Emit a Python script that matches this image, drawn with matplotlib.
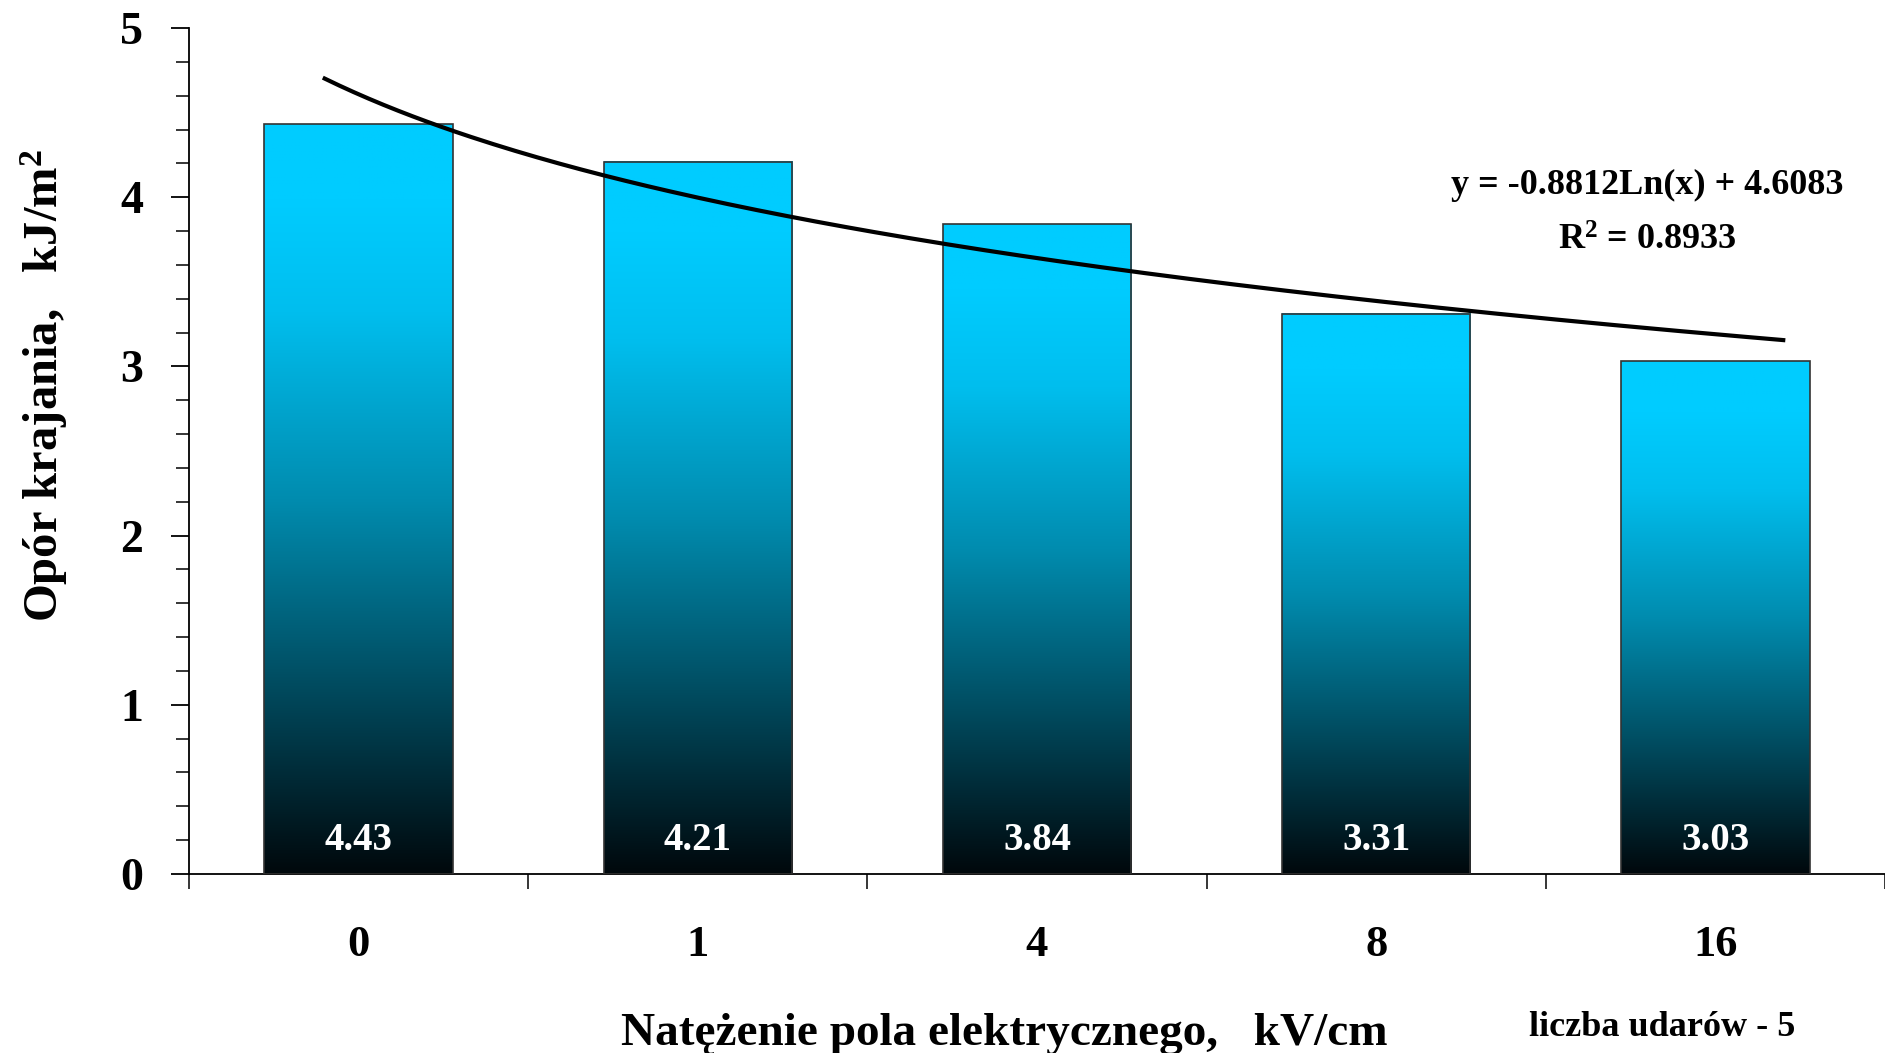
import numpy as np
import matplotlib.pyplot as plt
from matplotlib.colors import LinearSegmentedColormap

categories = ['0', '1', '4', '8', '16']
values = [4.43, 4.21, 3.84, 3.31, 3.03]

# logarithmic trendline as printed on the chart
trend_a = -0.8812
trend_b = 4.6083
r2 = 0.8933

plt.rcParams['font.family'] = ['Liberation Serif', 'DejaVu Serif']
plt.rcParams['font.weight'] = 'bold'
plt.rcParams['mathtext.fontset'] = 'custom'
plt.rcParams['mathtext.rm'] = 'Liberation Serif:bold'
plt.rcParams['mathtext.bf'] = 'Liberation Serif:bold'
plt.rcParams['mathtext.default'] = 'bf'

fig = plt.figure(figsize=(18.85, 10.53), dpi=100)
ax = fig.add_axes([189 / 1885, 1 - 874 / 1053, 1 - 189 / 1885, (874 - 28) / 1053])

cmap = LinearSegmentedColormap.from_list('bar_grad', [
    (0.0, (0 / 255, 8 / 255, 12 / 255)),
    (0.25, (0 / 255, 75 / 255, 95 / 255)),
    (0.5, (0 / 255, 140 / 255, 175 / 255)),
    (0.75, (0 / 255, 190 / 255, 238 / 255)),
    (0.9, (0 / 255, 204 / 255, 255 / 255)),
    (1.0, (0 / 255, 204 / 255, 255 / 255)),
])

x = np.arange(len(categories))
width = 0.555
grad = np.linspace(0, 1, 256).reshape(-1, 1)

bars = ax.bar(x, values, width=width, facecolor='none', edgecolor='#333333', linewidth=1.2, zorder=3)
for xi, v in zip(x, values):
    ax.imshow(grad, cmap=cmap, origin='lower', aspect='auto',
              extent=(xi - width / 2, xi + width / 2, 0, v), zorder=2)
    ax.text(xi, 0.2, f'{v:.2f}', color='white', fontsize=28, fontweight='bold',
            ha='center', va='center', zorder=4)

# trendline drawn in Excel's x = 1..n coordinates, forecast -0.1 / +0.2
tx = np.linspace(0.9, len(categories) + 0.2, 200)
ty = trend_a * np.log(tx) + trend_b
ax.plot(tx - 1, ty, color='black', linewidth=3, zorder=5)

ax.set_xlim(-0.5, len(categories) - 0.5)
ax.set_ylim(0, 5)

ax.spines['top'].set_visible(False)
ax.spines['right'].set_visible(False)
ax.spines['left'].set_linewidth(1.3)
ax.spines['bottom'].set_linewidth(1.3)

ax.set_yticks(np.arange(0, 6, 1))
ax.set_yticks(np.arange(0, 5.01, 0.2), minor=True)
ax.tick_params(axis='y', which='major', length=13, width=1.3, pad=20, labelsize=33)
ax.tick_params(axis='y', which='minor', length=9.5, width=1.1)

ax.set_xticks(np.arange(-0.5, len(categories), 1))
ax.set_xticklabels([])
ax.set_xticks(x, minor=True)
ax.set_xticklabels(categories, minor=True)
ax.tick_params(axis='x', which='major', length=11, width=1.1)
ax.tick_params(axis='x', which='minor', length=0, pad=37, labelsize=32)

fig.text(1647 / 1885, 1 - 185 / 1053, f'y = {trend_a}Ln(x) + {trend_b}',
         fontsize=26, fontweight='bold', ha='center', va='center')
fig.text(1647 / 1885, 1 - 241 / 1053, f'R$^{{2}}$ = {r2}',
         fontsize=26, fontweight='bold', ha='center', va='center')

fig.text(44 / 1885, 1 - 385 / 1053, 'Opór krajania,   kJ/m$^{2}$', rotation=90,
         fontsize=35, fontweight='bold', ha='center', va='center')
fig.text(1004 / 1885, 1 - 1034 / 1053, 'Natężenie pola elektrycznego,   kV/cm',
         fontsize=34, fontweight='bold', ha='center', va='center')
fig.text(1662 / 1885, 1 - 1027 / 1053, 'liczba udarów - 5',
         fontsize=26, fontweight='bold', ha='center', va='center')

fig.savefig('out.png', dpi=100)
